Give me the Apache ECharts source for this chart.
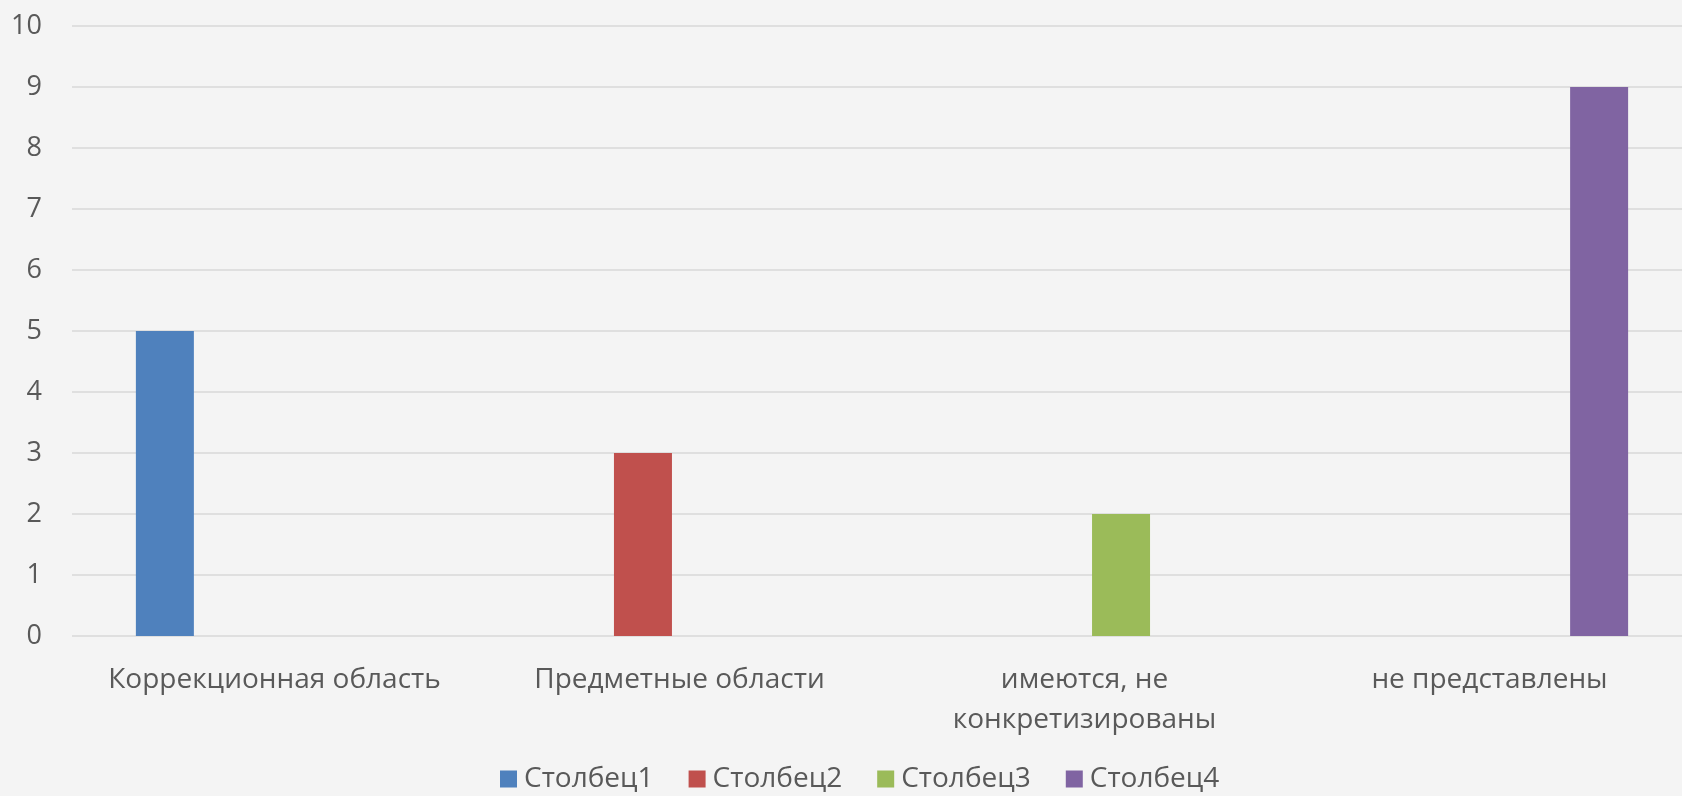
<!DOCTYPE html>
<html>
<head>
<meta charset="utf-8">
<script src="https://cdn.jsdelivr.net/npm/echarts@6/dist/echarts.min.js"></script>
<style>
  html, body { margin: 0; padding: 0; background: #f4f4f4; overflow: hidden; }
  #chart { width: 1720px; height: 796px; }
</style>
</head>
<body>
<div id="chart"></div>
<script>
// categories and values
const categories = ["Коррекционная область", "Предметные области", "имеются, не\nконкретизированы", "не представлены"];
const seriesNames = ["Столбец1", "Столбец2", "Столбец3", "Столбец4"];
const col1 = [5, null, null, null];
const col2 = [null, 3, null, null];
const col3 = [null, null, 2, null];
const col4 = [null, null, null, 9];
const colors = ["#4f81bd", "#c0504d", "#9bbb59", "#8064a2"];

const textColor = "#595959";
const font = "Open Sans";

let values = [col1, col2, col3, col4];
let series = seriesNames.map((name, i) => ({
  name: name,
  type: "bar",
  data: values[i],
  barWidth: 58,
  barGap: "26%",
  itemStyle: { color: colors[i] }
}));

// plot area runs past the right edge of the window, as in the reference
let chart = echarts.init(document.getElementById("chart"));
chart.setOption({
  backgroundColor: "#f4f4f4",
  animation: false,
  color: colors,
  grid: { left: 72, top: 26, width: 1620, height: 610 },
  legend: {
    data: seriesNames,
    left: 495,
    top: 760,
    itemWidth: 17,
    itemHeight: 17,
    itemGap: 35,
    icon: "rect",
    textStyle: { color: textColor, fontSize: 28, fontFamily: font, padding: [0, 0, 0, 2] }
  },
  xAxis: {
    type: "category",
    data: categories,
    axisLine: { show: false },
    axisTick: { show: false },
    axisLabel: {
      color: textColor,
      fontSize: 28,
      fontFamily: font,
      lineHeight: 40,
      margin: 24,
      interval: 0
    }
  },
  yAxis: {
    type: "value",
    min: 0,
    max: 10,
    interval: 1,
    axisLine: { show: false },
    axisTick: { show: false },
    splitLine: { lineStyle: { color: "#d9d9d9", width: 1.5 } },
    axisLabel: {
      color: textColor,
      fontSize: 27,
      fontFamily: font,
      margin: 30
    }
  },
  series: series
});
</script>
</body>
</html>
